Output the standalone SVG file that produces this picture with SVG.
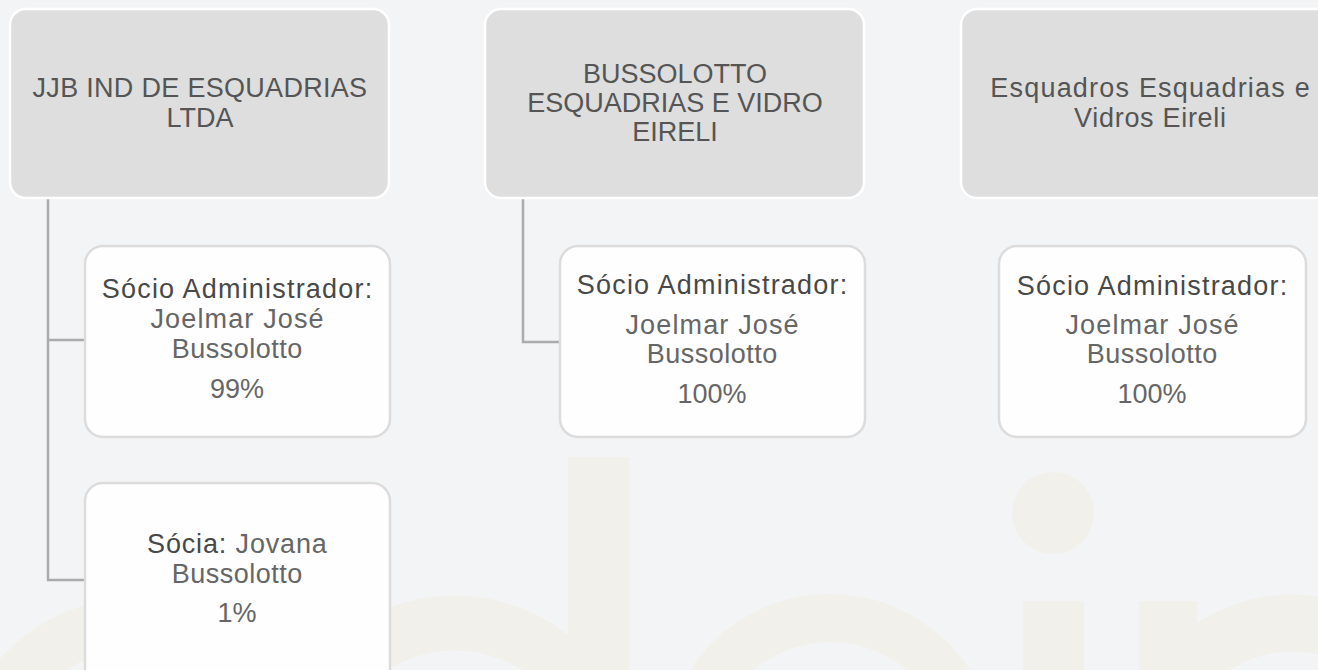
<svg xmlns="http://www.w3.org/2000/svg" width="1318" height="670" viewBox="0 0 1318 670">
<style>
.wm{fill:#f2f0eb}
.wmr{fill:none;stroke:#f2f0eb}
.parent{fill:#dedede;stroke:#ffffff;stroke-width:2.5}
.child{fill:#fefefe;stroke:#dcdcdc;stroke-width:2.5}
.conn{fill:none;stroke:#ababab;stroke-width:2.5}
.h{font-family:"Liberation Sans",Arial,sans-serif;font-size:27px;fill:#555555;text-anchor:middle}
.t{font-family:"Liberation Sans",Arial,sans-serif;font-size:27px;fill:#484848;text-anchor:middle;letter-spacing:1.2px}
.n{font-family:"Liberation Sans",Arial,sans-serif;font-size:27px;fill:#666666;text-anchor:middle}
.jj{letter-spacing:1.15px}
.bu{letter-spacing:0.5px}
</style>
<rect width="1318" height="670" fill="#f3f4f6"/>
<g id="watermark">
<circle class="wmr" cx="135" cy="778" r="154" stroke-width="52"/>
<circle class="wmr" cx="455" cy="775" r="152" stroke-width="55"/>
<rect class="wm" x="568" y="457" width="61" height="213"/>
<circle class="wmr" cx="830" cy="761" r="143" stroke-width="48"/>
<circle class="wm" cx="1053" cy="513" r="41"/>
<rect class="wm" x="1023" y="601" width="61" height="69"/>
<rect class="wm" x="1139" y="601" width="58" height="69"/>
<circle class="wmr" cx="1292" cy="765" r="142" stroke-width="57"/>
</g>
<g id="connectors">
<path class="conn" d="M48 198 V580 H85 M48 340 H85"/>
<path class="conn" d="M523 198 V342 H560"/>
</g>
<g id="company1">
<rect class="parent" x="10" y="9" width="379" height="189" rx="16"/>
<text class="h" x="200" y="97" letter-spacing="0.3">JJB IND DE ESQUADRIAS</text>
<text class="h" x="200" y="127">LTDA</text>
</g>
<g id="company2">
<rect class="parent" x="485" y="9" width="379" height="189" rx="16"/>
<text class="h" x="675" y="83">BUSSOLOTTO</text>
<text class="h" x="675" y="112">ESQUADRIAS E VIDRO</text>
<text class="h" x="675" y="141">EIRELI</text>
</g>
<g id="company3">
<rect class="parent" x="961" y="9" width="379" height="189" rx="16"/>
<text class="h" x="1150.6" y="97" letter-spacing="1.2">Esquadros Esquadrias e</text>
<text class="h" x="1150.4" y="127" letter-spacing="0.7">Vidros Eireli</text>
</g>
<g id="partner1a">
<rect class="child" x="85" y="246" width="305" height="191" rx="18"/>
<text class="t" x="237.6" y="298">Sócio Administrador:</text>
<text class="n jj" x="237.6" y="328">Joelmar José</text>
<text class="n bu" x="237.3" y="358">Bussolotto</text>
<text class="n" x="237" y="398">99%</text>
</g>
<g id="partner1b">
<rect class="child" x="85" y="483" width="305" height="210" rx="18"/>
<text class="n" x="237.4" y="553" letter-spacing="0.85"><tspan fill="#484848">Sócia:</tspan> Jovana</text>
<text class="n bu" x="237.3" y="583">Bussolotto</text>
<text class="n" x="237" y="622">1%</text>
</g>
<g id="partner2">
<rect class="child" x="560" y="246" width="305" height="191" rx="18"/>
<text class="t" x="712.6" y="294">Sócio Administrador:</text>
<text class="n jj" x="712.6" y="334">Joelmar José</text>
<text class="n bu" x="712.3" y="363">Bussolotto</text>
<text class="n" x="712" y="403">100%</text>
</g>
<g id="partner3">
<rect class="child" x="999" y="246" width="307" height="191" rx="18"/>
<text class="t" x="1152.6" y="295">Sócio Administrador:</text>
<text class="n jj" x="1152.6" y="334">Joelmar José</text>
<text class="n bu" x="1152.3" y="363">Bussolotto</text>
<text class="n" x="1152" y="403">100%</text>
</g>
</svg>
